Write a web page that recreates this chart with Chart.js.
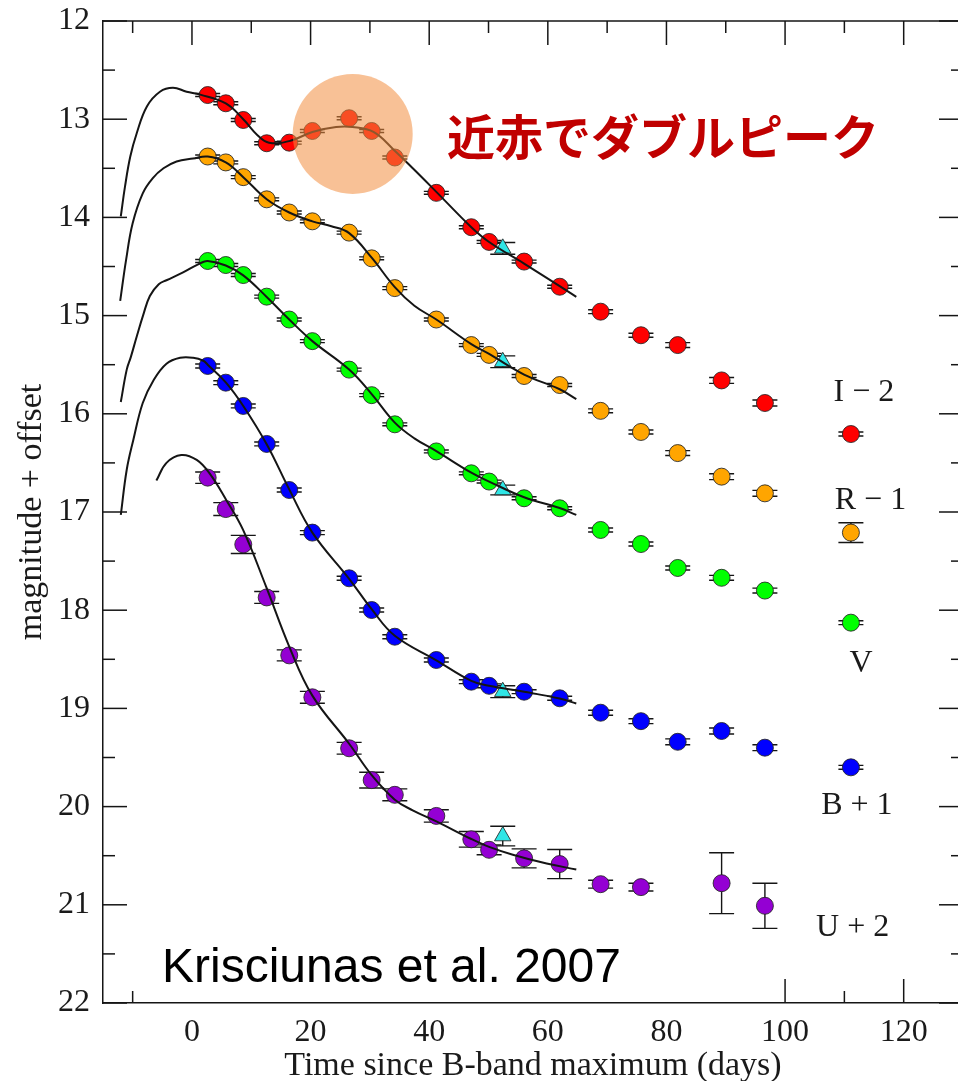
<!DOCTYPE html>
<html>
<head>
<meta charset="utf-8">
<script src="https://cdn.jsdelivr.net/npm/chart.js@4.4.1/dist/chart.umd.min.js"></script>
<style>
  html, body { margin: 0; padding: 0; background: #fff; overflow: hidden; width: 958px; height: 1081px; }
  #wrap { position: absolute; left: 0; top: 0; width: 958px; height: 1081px; overflow: hidden; }
  #lc { display: block; }
</style>
</head>
<body>
<div id="wrap"><canvas id="lc" width="968" height="1081"></canvas></div>
<script>
// ---- Photometry (days since B-band maximum, magnitudes with offsets) ----
const epochs = [2.65, 5.7, 8.65, 12.6, 16.4, 20.3, 26.5, 30.3, 34.2, 41.2, 47.1, 50.1, 56.0, 62.0, 68.9, 75.7, 81.9, 89.3, 96.6, 111.1];

const magI = [12.754, 12.838, 13.008, 13.245, 13.239, 13.12, 12.99, 13.12, 13.39, 13.75, 14.10, 14.25, 14.45, 14.706, 14.96, 15.20, 15.30, 15.66, 15.89, 16.206];
const errI = [0.015, 0.015, 0.015, 0.015, 0.015, 0.015, 0.015, 0.015, 0.015, 0.015, 0.015, 0.015, 0.015, 0.015, 0.02, 0.02, 0.025, 0.03, 0.03, 0.02];

const magR = [13.38, 13.44, 13.59, 13.816, 13.95, 14.04, 14.155, 14.417, 14.72, 15.04, 15.30, 15.40, 15.615, 15.707, 15.97, 16.185, 16.40, 16.64, 16.81, 17.21];
const errR = [0.015, 0.015, 0.015, 0.015, 0.015, 0.015, 0.015, 0.015, 0.015, 0.015, 0.015, 0.015, 0.015, 0.015, 0.02, 0.02, 0.025, 0.03, 0.03, 0.10];

const magV = [14.444, 14.485, 14.587, 14.807, 15.04, 15.26, 15.55, 15.81, 16.107, 16.383, 16.606, 16.69, 16.86, 16.962, 17.183, 17.326, 17.57, 17.67, 17.80, 18.127];
const errV = [0.015, 0.015, 0.015, 0.015, 0.015, 0.015, 0.015, 0.015, 0.015, 0.015, 0.015, 0.015, 0.015, 0.015, 0.02, 0.02, 0.02, 0.025, 0.025, 0.02];

const magB = [15.513, 15.683, 15.92, 16.307, 16.776, 17.21, 17.675, 17.998, 18.27, 18.507, 18.728, 18.77, 18.83, 18.897, 19.044, 19.13, 19.34, 19.23, 19.40, 19.60];
const errB = [0.02, 0.02, 0.02, 0.02, 0.02, 0.02, 0.02, 0.02, 0.02, 0.02, 0.02, 0.02, 0.02, 0.02, 0.025, 0.025, 0.03, 0.03, 0.03, 0.02];

const magU = [16.65, 16.97, 17.33, 17.87, 18.46, 18.887, 19.406, 19.73, 19.88, 20.095, 20.333, 20.44, 20.527, 20.585, 20.79, 20.82, null, 20.78, 21.01, null];
const errU = [0.058, 0.065, 0.092, 0.06, 0.056, 0.06, 0.06, 0.08, 0.06, 0.063, 0.08, 0.05, 0.097, 0.148, 0.04, 0.04, null, 0.31, 0.23, null];

// Single epoch from the second instrument (I, R, V, B, U)
const triEpoch = 52.4;
const triMag = [14.315, 15.47, 16.776, 18.83, 20.30];
const triErr = [0.06, 0.06, 0.05, 0.06, 0.10];

// Template light-curve fits, [day, mag]
const fitI = [[-12.0, 13.99], [-11.3, 13.69], [-10.4, 13.38], [-9.3, 13.14], [-7.6, 12.87], [-5.4, 12.72], [-3.2, 12.68], [-0.9, 12.72], [1.4, 12.75], [5.7, 12.84], [8.65, 13.00], [11.0, 13.16], [13.0, 13.24], [16.6, 13.22], [20.3, 13.13], [24.3, 13.08], [27.1, 13.08], [30.6, 13.13], [34.0, 13.31], [37.4, 13.51], [41.2, 13.74], [47.1, 14.10], [50.1, 14.25], [56.0, 14.47], [62.0, 14.70], [64.8, 14.81]];
const fitR = [[-12.1, 14.85], [-11.1, 14.43], [-10.0, 14.06], [-8.3, 13.755], [-6.6, 13.60], [-4.8, 13.50], [-2.6, 13.43], [0.2, 13.40], [2.65, 13.38], [5.7, 13.44], [8.65, 13.59], [12.6, 13.815], [16.4, 13.95], [20.3, 14.04], [23.5, 14.09], [26.5, 14.16], [30.3, 14.41], [34.2, 14.71], [37.5, 14.90], [41.2, 15.04], [47.1, 15.29], [50.1, 15.39], [56.0, 15.60], [62.0, 15.75], [64.8, 15.85]];
const fitV = [[-12.0, 15.88], [-11.0, 15.55], [-10.3, 15.42], [-9.3, 15.21], [-8.2, 14.99], [-7.1, 14.80], [-5.6, 14.68], [-4.3, 14.64], [-1.5, 14.56], [1.3, 14.47], [2.65, 14.445], [5.7, 14.49], [8.65, 14.59], [12.6, 14.81], [16.4, 15.04], [20.3, 15.26], [26.5, 15.55], [30.3, 15.80], [34.2, 16.09], [37.5, 16.25], [41.2, 16.38], [47.1, 16.60], [50.1, 16.69], [56.0, 16.85], [62.0, 16.96], [64.8, 17.03]];
const fitB = [[-12.0, 17.03], [-11.0, 16.57], [-9.9, 16.27], [-8.3, 15.89], [-6.5, 15.66], [-4.3, 15.49], [-2.0, 15.43], [0.2, 15.43], [1.9, 15.46], [2.65, 15.50], [5.7, 15.68], [8.65, 15.92], [12.6, 16.31], [16.4, 16.77], [20.3, 17.21], [26.5, 17.68], [30.3, 17.99], [34.2, 18.26], [41.2, 18.51], [47.1, 18.72], [50.1, 18.77], [56.0, 18.83], [62.0, 18.90], [64.8, 18.95]];
const fitU = [[-6.0, 16.68], [-4.3, 16.50], [-1.8, 16.42], [0.8, 16.47], [3.0, 16.61], [5.8, 16.88], [8.6, 17.18], [12.5, 17.76], [16.4, 18.37], [20.3, 18.87], [26.5, 19.36], [30.3, 19.68], [34.2, 19.93], [37.3, 20.04], [41.2, 20.15], [47.1, 20.33], [50.1, 20.41], [54.1, 20.49], [59.8, 20.58], [64.8, 20.64]];

// Axis ticks
const xTickValues = [0, 20, 40, 60, 80, 100, 120];
const xMinorValues = [-10, 10, 30, 50, 70, 90, 110];
const yTickValues = [12, 13, 14, 15, 16, 17, 18, 19, 20, 21, 22];

// Band labels placed beside the late-time points
const bandLabels = ['I \u2212 2', 'R \u2212 1', 'V', 'B + 1', 'U + 2'];
const labelDay = [113.3, 114.4, 112.8, 112.1, 111.4];
const labelMag = [15.78, 16.88, 18.54, 19.99, 21.23];

// Highlighted second maximum in the near-infrared
const peakDay = 27.1;
const peakMag = 13.15;
const peakNote = '近赤でダブルピーク';
const citation = 'Krisciunas et al. 2007';

// ---- styling ----
const SERIF = '"Liberation Serif", "Times New Roman", serif';
const bandColors = ['#ff0000', '#ffa500', '#00ff00', '#0000ff', '#9400d3'];
const INK = '#151515';
const CAP = 12.5;

function pointSet(mags, errs) {
  const data = [], eb = [];
  epochs.forEach((t, i) => {
    if (mags[i] !== null) { data.push({ x: t, y: mags[i] }); eb.push(errs[i]); }
  });
  return { data, eb };
}
function fitSet(fit) { return fit.map(p => ({ x: p[0], y: p[1] })); }

const bands = [[magI, errI], [magR, errR], [magV, errV], [magB, errB], [magU, errU]];
const datasets = [];
[fitI, fitR, fitV, fitB, fitU].forEach(f => {
  datasets.push({
    data: fitSet(f), showLine: true, borderColor: INK, borderWidth: 2,
    pointRadius: 0, tension: 0.4, fill: false, order: 0
  });
});
bands.forEach((b, k) => {
  const s = pointSet(b[0], b[1]);
  datasets.push({
    data: s.data, errorBars: s.eb, showLine: false,
    pointRadius: 8.5, pointHoverRadius: 8.5, pointBackgroundColor: bandColors[k],
    pointBorderColor: 'rgba(35,35,35,0.85)', pointBorderWidth: 1, order: 1
  });
});
datasets.push({
  data: triMag.map(m => ({ x: triEpoch, y: m })), errorBars: triErr.slice(), showLine: false,
  pointStyle: 'triangle', pointRadius: 9.5, pointHoverRadius: 9.5,
  pointBackgroundColor: '#2fe6e6', pointBorderColor: 'rgba(35,35,35,0.85)', pointBorderWidth: 1, order: 1
});

function line(ctx, x1, y1, x2, y2) { ctx.beginPath(); ctx.moveTo(x1, y1); ctx.lineTo(x2, y2); ctx.stroke(); }
function noPad(s) { s.paddingLeft = 0; s.paddingRight = 0; s.paddingTop = 0; s.paddingBottom = 0; }

const decor = {
  id: 'decor',
  beforeDatasetsDraw(chart) {
    const ctx = chart.ctx, ys = chart.scales.y, a = chart.chartArea;
    ctx.save();
    ctx.beginPath(); ctx.rect(a.left, a.top, a.right - a.left, a.bottom - a.top); ctx.clip();
    ctx.strokeStyle = INK; ctx.lineWidth = 1.4;
    chart.data.datasets.forEach((ds, i) => {
      if (!ds.errorBars) return;
      const meta = chart.getDatasetMeta(i);
      meta.data.forEach((el, j) => {
        const e = ds.errorBars[j], v = ds.data[j].y;
        const y1 = ys.getPixelForValue(v - e), y2 = ys.getPixelForValue(v + e), x = el.x;
        ctx.beginPath();
        ctx.moveTo(x, y1); ctx.lineTo(x, y2);
        ctx.moveTo(x - CAP, y1); ctx.lineTo(x + CAP, y1);
        ctx.moveTo(x - CAP, y2); ctx.lineTo(x + CAP, y2);
        ctx.stroke();
      });
    });
    ctx.restore();
  },
  afterDatasetsDraw(chart) {
    const ctx = chart.ctx, xs = chart.scales.x, ys = chart.scales.y;
    ctx.save();
    // translucent highlight over the second I-band peak
    ctx.fillStyle = 'rgba(242,142,64,0.55)';
    ctx.beginPath();
    ctx.arc(xs.getPixelForValue(peakDay), ys.getPixelForValue(peakMag), 60, 0, Math.PI * 2);
    ctx.fill();
    ctx.fillStyle = '#c00000';
    ctx.font = 'bold 48px "Noto Sans CJK JP", sans-serif';
    ctx.textAlign = 'left'; ctx.textBaseline = 'middle';
    ctx.fillText(peakNote, 447, 137);
    // band labels
    ctx.fillStyle = '#1a1a1a';
    ctx.font = '32px ' + SERIF;
    ctx.textAlign = 'center';
    bandLabels.forEach((s, i) => {
      ctx.fillText(s, xs.getPixelForValue(labelDay[i]), ys.getPixelForValue(labelMag[i]));
    });
    ctx.restore();
  },
  afterDraw(chart) {
    const ctx = chart.ctx, xs = chart.scales.x, ys = chart.scales.y, a = chart.chartArea;
    ctx.save();
    ctx.strokeStyle = INK; ctx.lineWidth = 1.5;
    // top and right frame
    line(ctx, a.left, a.top, a.right, a.top);
    line(ctx, a.right, a.top, a.right, a.bottom);
    // inward tick marks on all four sides
    xTickValues.concat(xMinorValues).forEach(t => {
      const px = xs.getPixelForValue(t);
      const L = xTickValues.includes(t) ? 24 : 12;
      line(ctx, px, a.bottom, px, a.bottom - L);
      line(ctx, px, a.top, px, a.top + L);
    });
    yTickValues.forEach((m, i) => {
      const list = i < yTickValues.length - 1 ? [m, m + 0.5] : [m];
      list.forEach((v, k) => {
        const py = ys.getPixelForValue(v);
        const L = k === 0 ? 24 : 12;
        line(ctx, a.left, py, a.left + L, py);
        line(ctx, a.right, py, a.right - L, py);
      });
    });
    // citation box
    ctx.fillStyle = '#ffffff';
    ctx.fillRect(141, 930, 731 - 141, a.bottom - 1 - 930);
    ctx.fillStyle = '#000';
    ctx.font = '48px "Liberation Sans", Arial, sans-serif';
    ctx.textAlign = 'left'; ctx.textBaseline = 'alphabetic';
    ctx.fillText(citation, 162, 982);
    // axis titles
    ctx.fillStyle = '#1a1a1a';
    ctx.font = '34px ' + SERIF;
    ctx.textAlign = 'center';
    ctx.fillText('Time since B-band maximum (days)', (a.left + a.right) / 2, 1075);
    ctx.translate(41, (a.top + a.bottom) / 2);
    ctx.rotate(-Math.PI / 2);
    ctx.fillText('magnitude + offset', 0, 0);
    ctx.restore();
  }
};

new Chart(document.getElementById('lc'), {
  type: 'scatter',
  data: { datasets },
  plugins: [decor],
  options: {
    responsive: false,
    animation: false,
    devicePixelRatio: 1,
    // the right side of the frame falls just outside the visible page
    layout: { autoPadding: false, padding: { top: 21, right: 5, left: 0, bottom: 0 } },
    plugins: { legend: { display: false }, tooltip: { enabled: false } },
    events: [],
    scales: {
      x: {
        type: 'linear', min: -15, max: 130,
        afterBuildTicks: s => { s.ticks = xTickValues.map(v => ({ value: v })); },
        afterFit: s => { s.height = 78; noPad(s); },
        grid: { display: false, drawTicks: false },
        border: { display: true, color: INK, width: 1.5 },
        ticks: { padding: 10, maxRotation: 0, autoSkip: false, color: '#1a1a1a', font: { family: SERIF, size: 32 } }
      },
      y: {
        type: 'linear', min: 12, max: 22, reverse: true,
        afterBuildTicks: s => { s.ticks = yTickValues.map(v => ({ value: v })); },
        afterFit: s => { s.width = 103; noPad(s); },
        grid: { display: false, drawTicks: false },
        border: { display: true, color: INK, width: 1.5 },
        ticks: { padding: 13, color: '#1a1a1a', font: { family: SERIF, size: 32 } }
      }
    }
  }
});
</script>
</body>
</html>
